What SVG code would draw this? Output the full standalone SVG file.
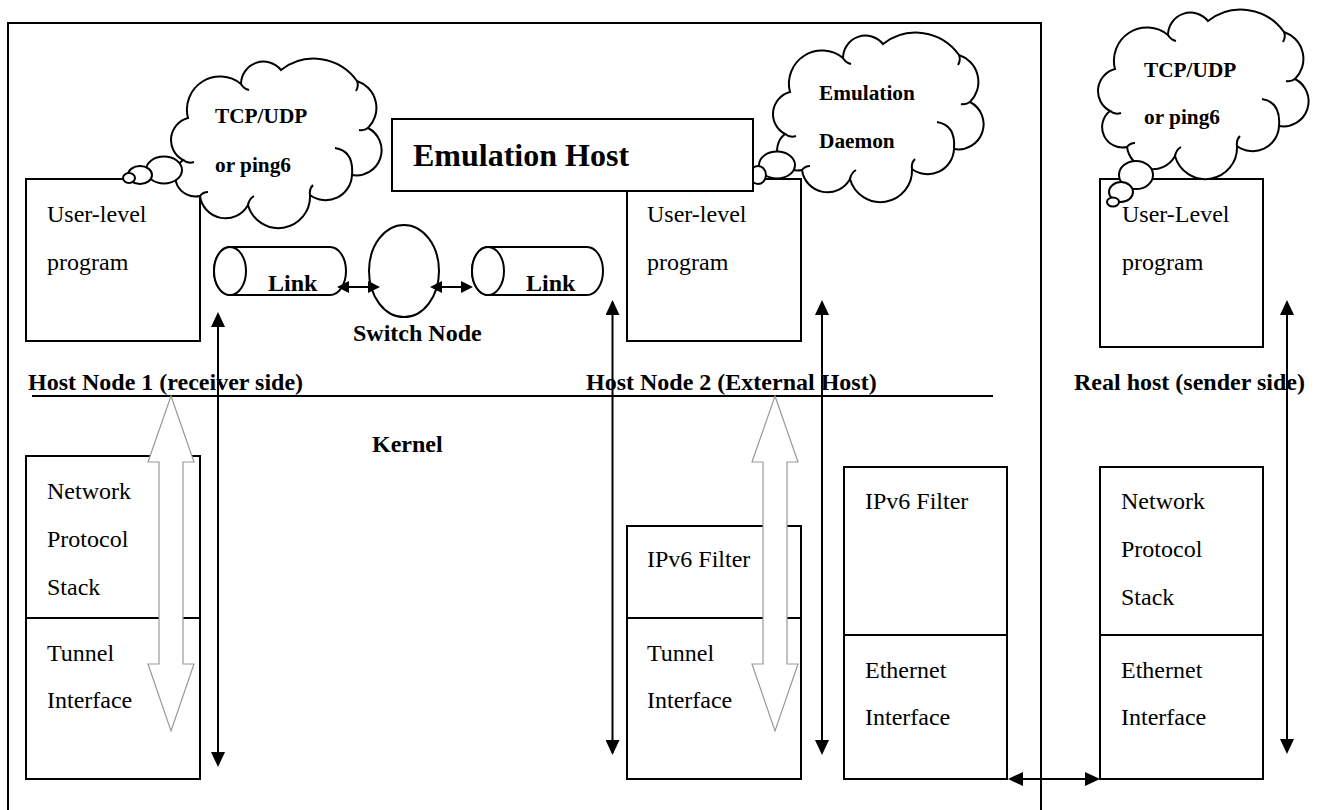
<svg xmlns="http://www.w3.org/2000/svg" xmlns:xlink="http://www.w3.org/1999/xlink" width="1321" height="810" viewBox="0 0 1321 810">
<style>
.bx{fill:#fff;stroke:#000;stroke-width:2}
.ln{fill:none;stroke:#000;stroke-width:2}
.hol{fill:#fff;stroke:#999;stroke-width:1.2}
.t{font-family:"Liberation Serif","Times New Roman",serif;font-size:24px;fill:#000}
.b{font-weight:bold}
.c{font-family:"Liberation Serif","Times New Roman",serif;font-size:21.3px;font-weight:bold;fill:#000}
.eh{font-family:"Liberation Serif","Times New Roman",serif;font-size:32px;font-weight:bold;fill:#000}
</style>
<defs>
<marker id="ah" viewBox="0 0 15 14" refX="13" refY="7" markerWidth="15" markerHeight="14" markerUnits="userSpaceOnUse" orient="auto-start-reverse"><path d="M0,0 L15,7 L0,14 z" fill="#000"/></marker>
<marker id="ahs" viewBox="0 0 12 12" refX="10" refY="6" markerWidth="12" markerHeight="12" markerUnits="userSpaceOnUse" orient="auto-start-reverse"><path d="M0,0 L12,6 L0,12 z" fill="#000"/></marker>
<g id="cloud">
<path class="bx" d="M183,160 A22.7,22.7 0 0 1 188,118 A33.1,33.1 0 0 1 241,84 A22.5,22.5 0 0 1 281,70 A52.9,52.9 0 0 1 357,81 A28.3,28.3 0 0 1 368,128 A25.1,25.1 0 0 1 352,175 A26.3,26.3 0 0 1 310,195 A31.6,31.6 0 0 1 248,205 A25.7,25.7 0 0 1 200,196 A20.4,20.4 0 0 1 183,160 Z"/>
<path class="ln" d="M335,148 Q354,151 352,175 M183,160 Q188,164 194,162 M241,84 Q244,89 249,90 M357,81 Q359,86 356,91 M368,128 Q364,131 359,130 M310,195 Q309,189 313,185 M248,205 Q249,199 254,196 M200,196 Q203,192 208,192"/>
</g>
</defs>
<rect width="1321" height="810" fill="#fff"/>

<g id="emulation-host-frame">
<rect class="ln" x="8" y="23" width="1033" height="820"/>
</g>

<g id="labels">
<text class="t b" x="28" y="390">Host Node 1 (receiver side)</text>
<text class="t b" x="586" y="390">Host Node 2 (External Host)</text>
<text class="t b" x="1074" y="390">Real host (sender side)</text>
<text class="t b" x="372" y="452">Kernel</text>
</g>

<g id="kernel-divider">
<line class="ln" x1="32" y1="396" x2="993" y2="396"/>
</g>

<g id="host1-user-program">
<rect class="bx" x="26" y="179" width="174" height="162"/>
<text class="t" x="47" y="222">User-level</text>
<text class="t" x="47" y="270">program</text>
</g>

<g id="host1-cloud">
<use xlink:href="#cloud" href="#cloud"/>
<ellipse class="bx" cx="164" cy="170" rx="18" ry="13.5"/>
<ellipse class="bx" cx="140" cy="175" rx="12" ry="9"/>
<ellipse class="bx" cx="129" cy="178" rx="6" ry="5"/>
<text class="c" x="215" y="123">TCP/UDP</text>
<text class="c" x="215" y="172">or ping6</text>
</g>

<g id="host1-kernel-stack">
<rect class="bx" x="26" y="456" width="174" height="323"/>
<line class="ln" x1="26" y1="618" x2="200" y2="618"/>
<text class="t" x="47" y="499">Network</text>
<text class="t" x="47" y="547">Protocol</text>
<text class="t" x="47" y="595">Stack</text>
<text class="t" x="47" y="661">Tunnel</text>
<text class="t" x="47" y="708">Interface</text>
</g>

<g id="host2-user-program">
<rect class="bx" x="627" y="179" width="174" height="162"/>
<text class="t" x="647" y="222">User-level</text>
<text class="t" x="647" y="270">program</text>
</g>

<g id="daemon-cloud">
<use xlink:href="#cloud" href="#cloud" transform="translate(602,-26)"/>
<ellipse class="bx" cx="777" cy="165" rx="18" ry="13.5"/>
<ellipse class="bx" cx="758" cy="175" rx="8" ry="9"/>
<text class="c" x="819" y="100">Emulation</text>
<text class="c" x="819" y="148">Daemon</text>
</g>

<g id="emulation-host-title">
<rect class="bx" x="392" y="119" width="361" height="72"/>
<text class="eh" x="413" y="166">Emulation Host</text>
</g>

<g id="host2-kernel-stack">
<rect class="bx" x="627" y="526" width="174" height="253"/>
<line class="ln" x1="627" y1="618" x2="801" y2="618"/>
<text class="t" x="647" y="567">IPv6 Filter</text>
<text class="t" x="647" y="661">Tunnel</text>
<text class="t" x="647" y="708">Interface</text>
</g>

<g id="host2-ethernet-stack">
<rect class="bx" x="844" y="467" width="163" height="312"/>
<line class="ln" x1="844" y1="635" x2="1007" y2="635"/>
<text class="t" x="865" y="509">IPv6 Filter</text>
<text class="t" x="865" y="678">Ethernet</text>
<text class="t" x="865" y="725">Interface</text>
</g>

<g id="real-user-program">
<rect class="bx" x="1100" y="179" width="163" height="168"/>
<text class="t" x="1122" y="222">User-Level</text>
<text class="t" x="1122" y="270">program</text>
</g>

<g id="real-cloud">
<use xlink:href="#cloud" href="#cloud" transform="translate(927,-49)"/>
<ellipse class="bx" cx="1136" cy="175" rx="17" ry="14"/>
<ellipse class="bx" cx="1121" cy="192" rx="12" ry="10"/>
<ellipse class="bx" cx="1113" cy="202" rx="6" ry="4.5"/>
<text class="c" x="1144" y="77">TCP/UDP</text>
<text class="c" x="1144" y="124">or ping6</text>
</g>

<g id="real-kernel-stack">
<rect class="bx" x="1100" y="467" width="163" height="312"/>
<line class="ln" x1="1100" y1="635" x2="1263" y2="635"/>
<text class="t" x="1121" y="509">Network</text>
<text class="t" x="1121" y="557">Protocol</text>
<text class="t" x="1121" y="605">Stack</text>
<text class="t" x="1121" y="678">Ethernet</text>
<text class="t" x="1121" y="725">Interface</text>
</g>

<g id="link1">
<path class="bx" d="M230,247 L330,247 A16,24 0 0 1 330,295 L230,295 A16,24 0 0 1 230,247 Z"/>
<ellipse class="bx" cx="230" cy="271" rx="16" ry="24"/>
<text class="t b" x="268" y="291">Link</text>
</g>

<g id="switch-node">
<ellipse class="bx" cx="404" cy="271" rx="35" ry="46"/>
<text class="t b" x="353" y="341">Switch Node</text>
</g>

<g id="link2">
<path class="bx" d="M488,247 L587,247 A16,24 0 0 1 587,295 L488,295 A16,24 0 0 1 488,247 Z"/>
<ellipse class="bx" cx="488" cy="271" rx="16" ry="24"/>
<text class="t b" x="526" y="291">Link</text>
</g>

<g id="connectors">
<polygon class="hol" points="171,396 194,462 183,462 183,664 194,664 171,731 148,664 159,664 159,462 148,462"/>
<polygon class="hol" points="775,396 798,462 787,462 787,664 798,664 775,731 752,664 763,664 763,462 752,462"/>
<line class="ln" x1="218" y1="314" x2="218" y2="765" marker-start="url(#ah)" marker-end="url(#ah)"/>
<line class="ln" x1="612.5" y1="302" x2="612.5" y2="753" marker-start="url(#ah)" marker-end="url(#ah)"/>
<line class="ln" x1="822" y1="302" x2="822" y2="753" marker-start="url(#ah)" marker-end="url(#ah)"/>
<line class="ln" x1="1287" y1="302" x2="1287" y2="752" marker-start="url(#ah)" marker-end="url(#ah)"/>
<line class="ln" x1="339" y1="287" x2="378" y2="287" marker-start="url(#ahs)" marker-end="url(#ahs)"/>
<line class="ln" x1="432" y1="287" x2="471" y2="287" marker-start="url(#ahs)" marker-end="url(#ahs)"/>
<line class="ln" x1="1010" y1="779" x2="1098" y2="779" marker-start="url(#ah)" marker-end="url(#ah)"/>
</g>
</svg>
